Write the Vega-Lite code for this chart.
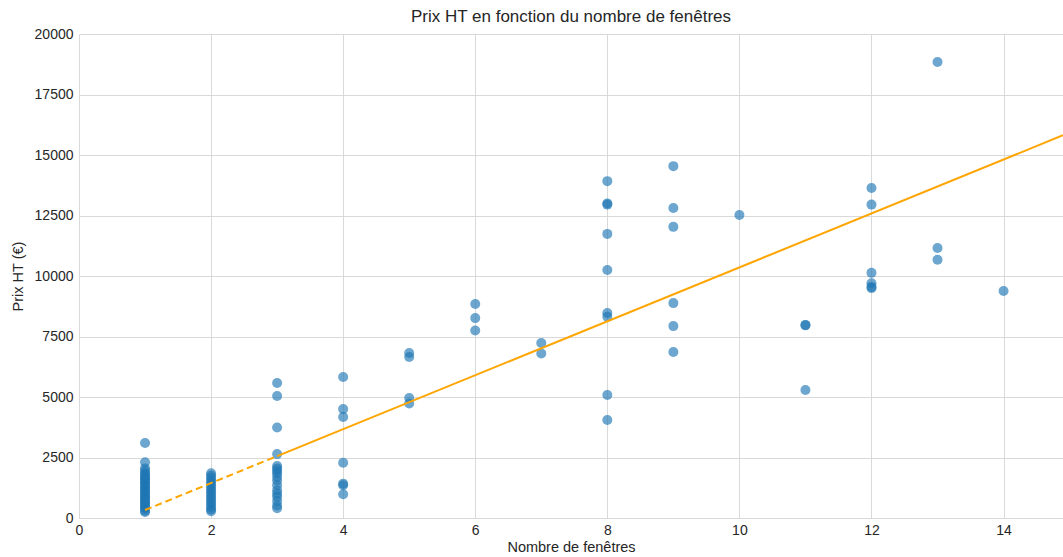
{
  "$schema": "https://vega.github.io/schema/vega-lite/v6.json",
  "autosize": "none",
  "width": 984,
  "height": 484,
  "padding": {"left": 79, "top": 34, "right": 0, "bottom": 39},
  "background": "white",
  "title": {
    "text": "Prix HT en fonction du nombre de fenêtres",
    "font": "Liberation Sans",
    "fontSize": 17,
    "fontWeight": "normal",
    "color": "#262626",
    "anchor": "middle",
    "offset": 1
  },
  "config": {
    "view": {"stroke": null},
    "axis": {
      "labelFont": "Liberation Sans",
      "titleFont": "Liberation Sans",
      "labelFontSize": 14,
      "titleFontSize": 14.5,
      "titleFontWeight": "normal",
      "labelColor": "#262626",
      "titleColor": "#262626",
      "gridColor": "#d9d9d9",
      "gridWidth": 1,
      "domainColor": "#d9d9d9",
      "labelFlush": false,
      "ticks": false
    }
  },
  "datasets": {
    "ventes": [
      {"fenetres": 1, "prix": 3100}, {"fenetres": 1, "prix": 2300}, {"fenetres": 1, "prix": 2050},
      {"fenetres": 1, "prix": 1950}, {"fenetres": 1, "prix": 1850}, {"fenetres": 1, "prix": 1800},
      {"fenetres": 1, "prix": 1700}, {"fenetres": 1, "prix": 1650}, {"fenetres": 1, "prix": 1600},
      {"fenetres": 1, "prix": 1500}, {"fenetres": 1, "prix": 1450}, {"fenetres": 1, "prix": 1400},
      {"fenetres": 1, "prix": 1300}, {"fenetres": 1, "prix": 1250}, {"fenetres": 1, "prix": 1200},
      {"fenetres": 1, "prix": 1100}, {"fenetres": 1, "prix": 1050}, {"fenetres": 1, "prix": 1000},
      {"fenetres": 1, "prix": 900}, {"fenetres": 1, "prix": 850}, {"fenetres": 1, "prix": 800},
      {"fenetres": 1, "prix": 700}, {"fenetres": 1, "prix": 650}, {"fenetres": 1, "prix": 600},
      {"fenetres": 1, "prix": 500}, {"fenetres": 1, "prix": 450}, {"fenetres": 1, "prix": 400},
      {"fenetres": 1, "prix": 300}, {"fenetres": 1, "prix": 250},
      {"fenetres": 2, "prix": 1850}, {"fenetres": 2, "prix": 1750}, {"fenetres": 2, "prix": 1650},
      {"fenetres": 2, "prix": 1550}, {"fenetres": 2, "prix": 1450}, {"fenetres": 2, "prix": 1350},
      {"fenetres": 2, "prix": 1250}, {"fenetres": 2, "prix": 1150}, {"fenetres": 2, "prix": 1050},
      {"fenetres": 2, "prix": 950}, {"fenetres": 2, "prix": 850}, {"fenetres": 2, "prix": 750},
      {"fenetres": 2, "prix": 650}, {"fenetres": 2, "prix": 550}, {"fenetres": 2, "prix": 450},
      {"fenetres": 2, "prix": 350}, {"fenetres": 2, "prix": 280},
      {"fenetres": 3, "prix": 5580}, {"fenetres": 3, "prix": 5040}, {"fenetres": 3, "prix": 3740},
      {"fenetres": 3, "prix": 2640}, {"fenetres": 3, "prix": 2150}, {"fenetres": 3, "prix": 2050},
      {"fenetres": 3, "prix": 1950}, {"fenetres": 3, "prix": 1850}, {"fenetres": 3, "prix": 1700},
      {"fenetres": 3, "prix": 1550}, {"fenetres": 3, "prix": 1350}, {"fenetres": 3, "prix": 1150},
      {"fenetres": 3, "prix": 1000}, {"fenetres": 3, "prix": 880}, {"fenetres": 3, "prix": 700},
      {"fenetres": 3, "prix": 520}, {"fenetres": 3, "prix": 400},
      {"fenetres": 4, "prix": 5830}, {"fenetres": 4, "prix": 4500}, {"fenetres": 4, "prix": 4170},
      {"fenetres": 4, "prix": 2280}, {"fenetres": 4, "prix": 1420}, {"fenetres": 4, "prix": 1350},
      {"fenetres": 4, "prix": 980},
      {"fenetres": 5, "prix": 6820}, {"fenetres": 5, "prix": 6650}, {"fenetres": 5, "prix": 4960},
      {"fenetres": 5, "prix": 4730},
      {"fenetres": 6, "prix": 8840}, {"fenetres": 6, "prix": 8260}, {"fenetres": 6, "prix": 7750},
      {"fenetres": 7, "prix": 7230}, {"fenetres": 7, "prix": 6800},
      {"fenetres": 8, "prix": 13920}, {"fenetres": 8, "prix": 13000}, {"fenetres": 8, "prix": 12950},
      {"fenetres": 8, "prix": 11740}, {"fenetres": 8, "prix": 10250}, {"fenetres": 8, "prix": 8470},
      {"fenetres": 8, "prix": 8320}, {"fenetres": 8, "prix": 5080}, {"fenetres": 8, "prix": 4050},
      {"fenetres": 9, "prix": 14540}, {"fenetres": 9, "prix": 12810}, {"fenetres": 9, "prix": 12030},
      {"fenetres": 9, "prix": 8880}, {"fenetres": 9, "prix": 7930}, {"fenetres": 9, "prix": 6860},
      {"fenetres": 10, "prix": 12520},
      {"fenetres": 11, "prix": 7980}, {"fenetres": 11, "prix": 7960}, {"fenetres": 11, "prix": 5290},
      {"fenetres": 12, "prix": 13640}, {"fenetres": 12, "prix": 12950}, {"fenetres": 12, "prix": 10130},
      {"fenetres": 12, "prix": 9700}, {"fenetres": 12, "prix": 9550}, {"fenetres": 12, "prix": 9500},
      {"fenetres": 13, "prix": 18840}, {"fenetres": 13, "prix": 11160}, {"fenetres": 13, "prix": 10670},
      {"fenetres": 14, "prix": 9380}
    ],
    "regression_pointilles": [
      {"fenetres": 1, "prix_predit": 330},
      {"fenetres": 3, "prix_predit": 2558}
    ],
    "regression": [
      {"fenetres": 3, "prix_predit": 2558},
      {"fenetres": 14.9, "prix_predit": 15815}
    ]
  },
  "layer": [
    {
      "data": {"name": "ventes"},
      "mark": {"type": "circle", "size": 100, "color": "#1f77b4", "opacity": 0.65, "clip": true},
      "encoding": {
        "x": {
          "field": "fenetres",
          "type": "quantitative",
          "title": "Nombre de fenêtres",
          "scale": {"domain": [0, 14.9], "nice": false, "zero": false},
          "axis": {
            "values": [0, 2, 4, 6, 8, 10, 12, 14],
            "format": "d",
            "labelPadding": 5,
            "titlePadding": 3,
            "grid": true
          }
        },
        "y": {
          "field": "prix",
          "type": "quantitative",
          "title": "Prix HT (€)",
          "scale": {"domain": [0, 20000], "nice": false},
          "axis": {
            "values": [0, 2500, 5000, 7500, 10000, 12500, 15000, 17500, 20000],
            "format": "d",
            "labelPadding": 6,
            "titlePadding": 9,
            "grid": true
          }
        }
      }
    },
    {
      "data": {"name": "regression_pointilles"},
      "mark": {"type": "line", "color": "#ffa500", "strokeWidth": 2, "strokeDash": [7, 4], "clip": true},
      "encoding": {
        "x": {"field": "fenetres", "type": "quantitative"},
        "y": {"field": "prix_predit", "type": "quantitative"}
      }
    },
    {
      "data": {"name": "regression"},
      "mark": {"type": "line", "color": "#ffa500", "strokeWidth": 2, "clip": true},
      "encoding": {
        "x": {"field": "fenetres", "type": "quantitative"},
        "y": {"field": "prix_predit", "type": "quantitative"}
      }
    }
  ]
}
